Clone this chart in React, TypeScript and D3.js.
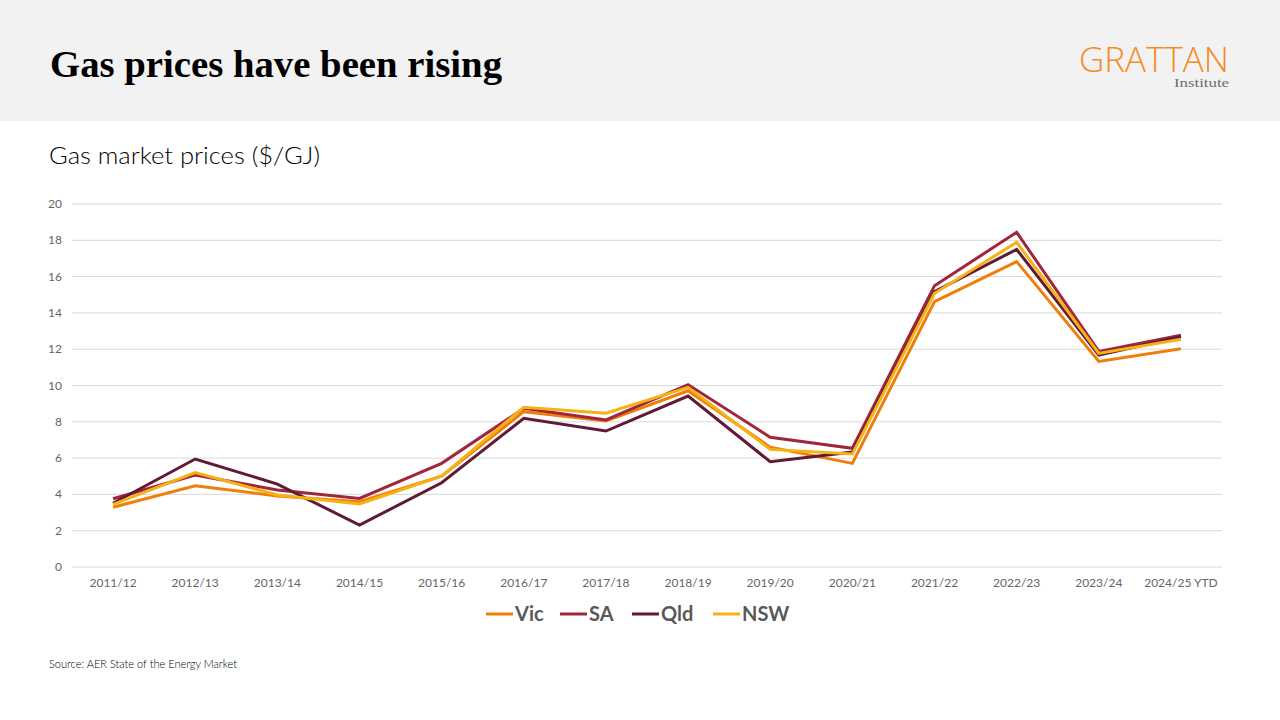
import React from "react";
import * as d3 from "d3";

const categories = ["2011/12","2012/13","2013/14","2014/15","2015/16","2016/17","2017/18","2018/19","2019/20","2020/21","2021/22","2022/23","2023/24","2024/25 YTD"];
const vic = [3.29,4.48,3.91,3.6,5.0,8.56,8.04,9.71,6.6,5.71,14.62,16.83,11.33,12.03];
const sa = [3.76,5.07,4.24,3.78,5.71,8.74,8.1,10.05,7.15,6.54,15.5,18.44,11.88,12.77];
const qld = [3.51,5.95,4.57,2.31,4.64,8.19,7.49,9.42,5.8,6.33,15.17,17.5,11.68,12.69];
const nsw = [3.45,5.2,3.97,3.47,5.01,8.8,8.47,9.9,6.48,6.23,15.08,17.89,11.77,12.55];
const yTicks = [0,2,4,6,8,10,12,14,16,18,20];

const series = [
  { name: "Vic", values: vic, color: "#F07E0A" },
  { name: "SA", values: sa, color: "#A0263E" },
  { name: "Qld", values: qld, color: "#621934" },
  { name: "NSW", values: nsw, color: "#F4B214" },
];

const W = 1280, H = 720;
const sans = "Lato, 'Open Sans', sans-serif";

export default function App() {
  const x = d3.scaleBand<string>().domain(categories).range([72, 1222]);
  const y = d3.scaleLinear().domain([0, 20]).range([567, 204]);
  const line = d3.line<number>()
    .x((_, i) => (x(categories[i]) as number) + x.bandwidth() / 2)
    .y((d) => y(d));

  const legendX = [486, 560, 632, 713];

  return (
    <svg width={W} height={H} style={{ position: "absolute", left: 0, top: 0 }}>
      <rect x={0} y={0} width={W} height={H} fill="#ffffff" />
      <rect x={0} y={0} width={W} height={121} fill="#F2F2F2" />
      <text x={50} y={77} fontFamily="'Liberation Serif', serif" fontWeight="bold" fontSize={38} fill="#000" textLength={452} lengthAdjust="spacingAndGlyphs">Gas prices have been rising</text>
      <text x={1229} y={72} textAnchor="end" fontFamily="'Open Sans', sans-serif" fontWeight={300} fontSize={34} fill="#F68B1F" textLength={150} lengthAdjust="spacingAndGlyphs">GRATTAN</text>
      <text x={1229} y={87} textAnchor="end" fontFamily="'Liberation Serif', serif" fontSize={13} fill="#6d6d6d" textLength={55} lengthAdjust="spacingAndGlyphs">Institute</text>

      <text x={49} y={164} fontFamily={sans} fontWeight={300} fontSize={23} fill="#000" textLength={271} lengthAdjust="spacingAndGlyphs">Gas market prices ($/GJ)</text>

      {yTicks.map((t) => (
        <g key={t}>
          <line x1={72} x2={1222} y1={y(t)} y2={y(t)} stroke="#D9D9D9" strokeWidth={1} />
          <text x={62} y={y(t) + 4} textAnchor="end" fontFamily={sans} fontSize={12} fill="#666666">{t}</text>
        </g>
      ))}
      {categories.map((c) => (
        <text key={c} x={(x(c) as number) + x.bandwidth() / 2} y={587} textAnchor="middle" fontFamily={sans} fontSize={12} fill="#666666">{c}</text>
      ))}

      {series.map((s) => (
        <path key={s.name} d={line(s.values) || ""} fill="none" stroke={s.color} strokeWidth={3} strokeLinejoin="miter" />
      ))}

      {series.map((s, i) => (
        <g key={s.name}>
          <line x1={legendX[i]} x2={legendX[i] + 27} y1={614} y2={614} stroke={s.color} strokeWidth={3} />
          <text x={legendX[i] + 29} y={621} fontFamily={sans} fontWeight="bold" fontSize={20} fill="#595959">{s.name}</text>
        </g>
      ))}

      <text x={49} y={668} fontFamily={sans} fontWeight={300} fontSize={11} fill="#000">Source: AER State of the Energy Market</text>
    </svg>
  );
}
